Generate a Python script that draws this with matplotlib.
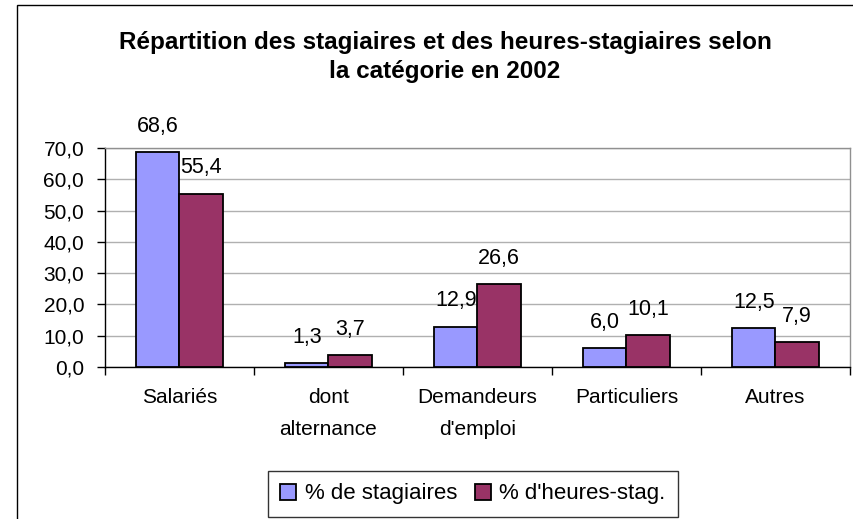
import matplotlib
matplotlib.use("Agg")
import matplotlib.pyplot as plt
from matplotlib.patches import Patch, Rectangle
from matplotlib.ticker import FuncFormatter, FixedLocator

categories = ["Salariés", "dont\nalternance", "Demandeurs\nd'emploi", "Particuliers", "Autres"]
stagiaires = [68.6, 1.3, 12.9, 6.0, 12.5]
heures = [55.4, 3.7, 26.6, 10.1, 7.9]
series_names = ["% de stagiaires", "% d'heures-stag."]
yticks = [0, 10, 20, 30, 40, 50, 60, 70]

plt.rcParams['font.family'] = ['Liberation Sans', 'DejaVu Sans']

W, H = 854, 519
fig = plt.figure(figsize=(W / 100, H / 100), dpi=100)
fig.patch.set_facecolor('white')

left, right, top, bottom = 105, 850, 148, 367
ax = fig.add_axes([left / W, 1 - bottom / H, (right - left) / W, (bottom - top) / H])

c1, c2 = '#9999FF', '#993366'
fs_tick = 15
fs_val = 15.5
fs_leg = 16
bw = 0.29
x = list(range(len(categories)))
b1 = ax.bar([i - bw / 2 for i in x], stagiaires, bw, color=c1, edgecolor='black', linewidth=1.3, zorder=3)
b2 = ax.bar([i + bw / 2 for i in x], heures, bw, color=c2, edgecolor='black', linewidth=1.3, zorder=3)

def fmt(v):
    return f"{v:.1f}".replace('.', ',')

for bars, vals in ((b1, stagiaires), (b2, heures)):
    for r, v in zip(bars, vals):
        ax.annotate(fmt(v), (r.get_x() + r.get_width() / 2, v), xytext=(0, 11),
                    textcoords='offset points', ha='center', va='bottom', fontsize=fs_val,
                    zorder=5, annotation_clip=False)

ax.set_xlim(-0.5, len(categories) - 0.5)
ax.set_ylim(0, 70)
ax.set_yticks(yticks)
ax.yaxis.set_major_formatter(FuncFormatter(lambda v, p: fmt(v)))
ax.tick_params(axis='y', direction='out', length=6, width=1, labelsize=fs_tick, pad=9)
ax.set_xticks(x)
ax.set_xticklabels(categories, fontsize=fs_tick, linespacing=1.85, va='top')
ax.tick_params(axis='x', which='major', length=0, pad=15)
ax.xaxis.set_minor_locator(FixedLocator([i - 0.5 for i in range(len(categories) + 1)]))
ax.tick_params(axis='x', which='minor', direction='out', length=6, width=1)

ax.grid(axis='y', color='#b0b0b0', linewidth=1, zorder=0)
ax.set_axisbelow(True)
for s in ('left', 'bottom'):
    ax.spines[s].set_color('black')
    ax.spines[s].set_linewidth(1)
for s in ('top', 'right'):
    ax.spines[s].set_color('#909090')
    ax.spines[s].set_linewidth(1)

fig.text(445 / W, 1 - 57 / H, "Répartition des stagiaires et des heures-stagiaires selon\nla catégorie en 2002",
         ha='center', va='center', fontsize=17.5, fontweight='bold', linespacing=1.38)

handles = [Patch(facecolor=c1, edgecolor='black', linewidth=1.3),
           Patch(facecolor=c2, edgecolor='black', linewidth=1.3)]
leg = fig.legend(handles, series_names, loc='center', bbox_to_anchor=(473 / W, 1 - 494 / H),
                 ncol=2, fontsize=fs_leg, frameon=True, fancybox=False, handlelength=0.7,
                 handleheight=0.7, handletextpad=0.4, columnspacing=0.8, borderpad=0.55,
                 borderaxespad=0)
leg.get_frame().set_edgecolor('black')
leg.get_frame().set_linewidth(1)

fig.patches.append(Rectangle((17 / W, -0.1), 1.2, 1.1 - 5 / H, transform=fig.transFigure,
                             fill=False, edgecolor='black', linewidth=1))

fig.savefig('out.png', dpi=100)
